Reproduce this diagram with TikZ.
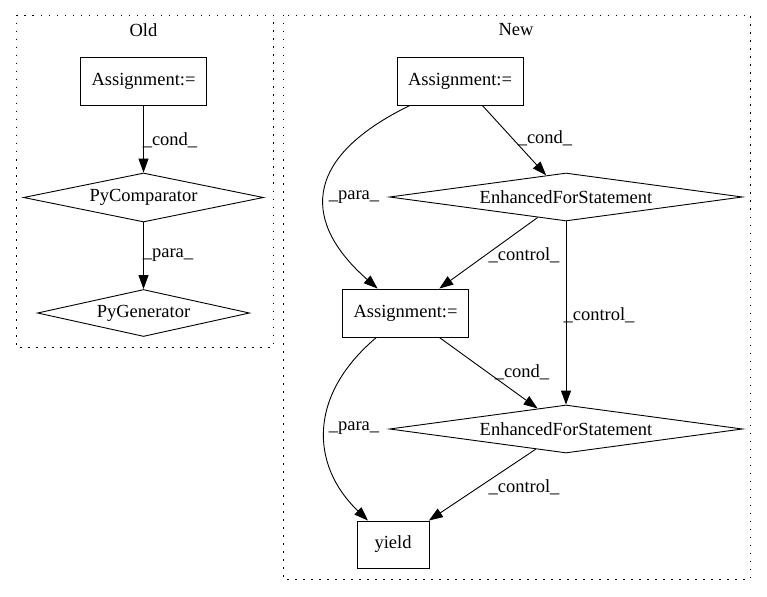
\documentclass[tikz,border=0pt]{standalone}
\usepackage{fontspec}
\setmainfont{Liberation Serif}
\usetikzlibrary{shapes.geometric,arrows.meta}
\begin{document}
\begin{tikzpicture}[x=1pt,y=-1pt,
  every node/.style={font=\fontsize{18.5}{22}\selectfont},
  box/.style={draw,line width=0.9pt,minimum width=126pt,minimum height=48pt,inner sep=0pt},
  dia/.style={draw,diamond,aspect=6,inner sep=0pt,line width=0.9pt},
  edge/.style={line width=0.9pt,-{Triangle[length=14pt,width=10pt]}},
  lbl/.style={inner sep=0pt},
  cluster/.style={draw,line width=0.9pt,dash pattern=on 1.5pt off 6.5pt}]
\useasboundingbox (0,0) rectangle (767,596);
% clusters
\draw[cluster] (16,15) rectangle (273,347);
\draw[cluster] (283,15) rectangle (750,579);
\node (oldL) at (143.5,30) {Old};
\node (newL) at (516,30) {New};
% old nodes
\node[box] (oldA) at (143.5,81) {Assignment:=};
\node[dia,minimum width=240pt,minimum height=49pt] (pycomp) at (143.5,197.5) {PyComparator};
\node[dia,minimum width=212pt,minimum height=47pt] (pygen) at (143.5,313) {PyGenerator};
% new nodes
\node[box] (newA) at (460,81) {Assignment:=};
\node[dia,minimum width=353pt,minimum height=48pt] (efs1) at (566,197) {EnhancedForStatement};
\node[box] (midA) at (405.5,313) {Assignment:=};
\node[dia,minimum width=353pt,minimum height=48pt] (efs2) at (566,429) {EnhancedForStatement};
\node[box,minimum width=72pt,minimum height=47pt] (yield) at (393,544.5) {yield};
% old edges
\draw[edge] (oldA) -- (pycomp);
\draw[edge] (pycomp) -- (pygen);
\node[lbl] (l1) at (170,140) {\_cond\_};
\node[lbl] (l2) at (168,255) {\_para\_};
% new edges
\draw[edge] (newA) -- (efs1);
\node[lbl] (l3) at (545,138) {\_cond\_};
\draw[edge] (newA) .. controls (298,160) and (305,225) .. (midA);
\node[lbl] (l4) at (354,197) {\_para\_};
\draw[edge] (efs1) -- (midA);
\node[lbl] (l5) at (524,255) {\_control\_};
\draw[edge] (efs1.south) -- (efs2.north);
\node[lbl] (l6) at (599,315) {\_control\_};
\draw[edge] (midA) -- (efs2);
\node[lbl] (l7) at (522,372) {\_cond\_};
\draw[edge] (midA) .. controls (308,395) and (310,465) .. (yield);
\node[lbl] (l8) at (354,428) {\_para\_};
\draw[edge] (efs2) -- (yield);
\node[lbl] (l9) at (524,487) {\_control\_};
\end{tikzpicture}
\end{document}
